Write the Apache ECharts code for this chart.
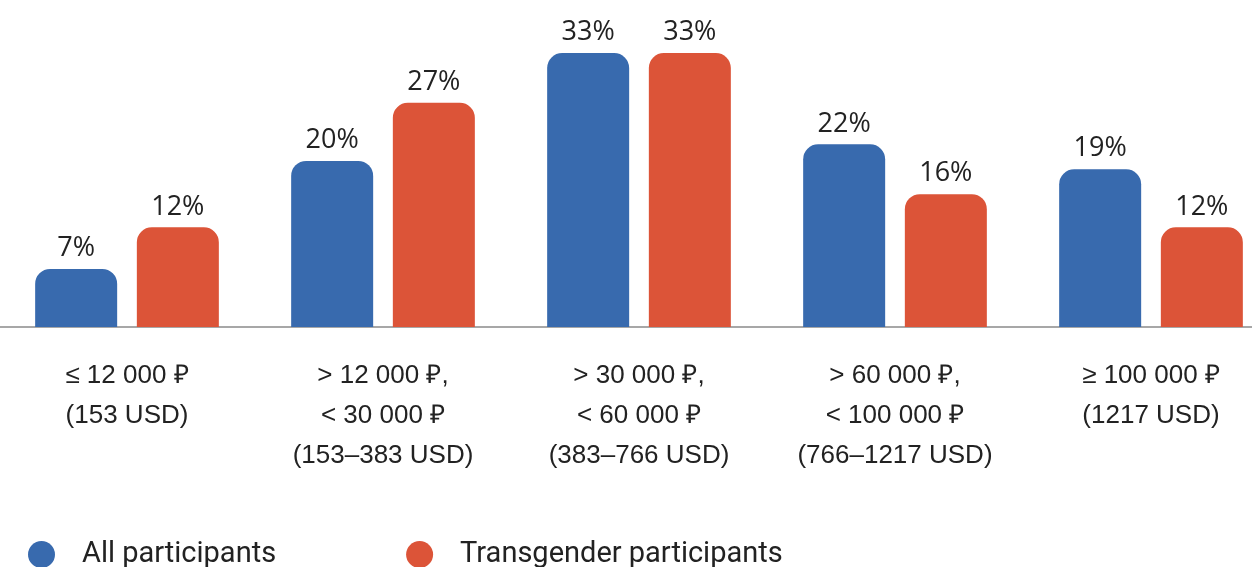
<!DOCTYPE html>
<html>
<head>
<meta charset="utf-8">
<script src="https://cdn.jsdelivr.net/npm/echarts@6/dist/echarts.min.js"></script>
<style>
  html, body { margin: 0; padding: 0; background: #fff; }
  #chart { width: 1252px; height: 567px; }
</style>
</head>
<body>
<div id="chart"></div>
<script>
const categories = [
    '≤ 12 000 ₽\n(153 USD)',
    '> 12 000 ₽,\n< 30 000 ₽\n(153–383 USD)',
    '> 30 000 ₽,\n< 60 000 ₽\n(383–766 USD)',
    '> 60 000 ₽,\n< 100 000 ₽\n(766–1217 USD)',
    '≥ 100 000 ₽\n(1217 USD)'
];
const allParticipants = [7, 20, 33, 22, 19];
const transParticipants = [12, 27, 33, 16, 12];

const colorAll = '#386aae';
const colorTrans = '#dc5438';

const labelStyle = {
    show: true,
    position: 'top',
    distance: 7,
    formatter: '{c}%',
    fontFamily: 'Open Sans',
    fontSize: 27,
    color: '#222'
};

const chart = echarts.init(document.getElementById('chart'));
chart.setOption({
    animation: false,
    grid: {
        left: -1,
        top: 53,
        width: 1280,
        height: 274,
        outerBoundsMode: 'none',
        containLabel: false
    },
    legend: {
        left: 23,
        top: 535,
        itemWidth: 27,
        itemHeight: 27,
        itemGap: 130,
        icon: 'circle',
        textStyle: {
            fontFamily: 'Roboto',
            fontSize: 29,
            color: '#222',
            padding: [0, 0, 0, 22]
        }
    },
    xAxis: {
        type: 'category',
        data: categories,
        axisTick: { show: false },
        axisLine: { lineStyle: { color: '#8a8a8a', width: 1.5 } },
        axisLabel: {
            interval: 0,
            hideOverlap: false,
            margin: 29,
            lineHeight: 40,
            fontFamily: 'Liberation Sans',
            fontSize: 26,
            color: '#222',
            align: 'center'
        }
    },
    yAxis: {
        type: 'value',
        min: 0,
        max: 33,
        show: false
    },
    series: [{
        name: 'All participants',
        type: 'bar',
        data: allParticipants,
        barWidth: 82,
        barGap: '24%',
        itemStyle: { color: colorAll, borderRadius: [15, 15, 0, 0] },
        label: labelStyle
    }, {
        name: 'Transgender participants',
        type: 'bar',
        data: transParticipants,
        barWidth: 82,
        itemStyle: { color: colorTrans, borderRadius: [15, 15, 0, 0] },
        label: labelStyle
    }]
});
</script>
</body>
</html>
